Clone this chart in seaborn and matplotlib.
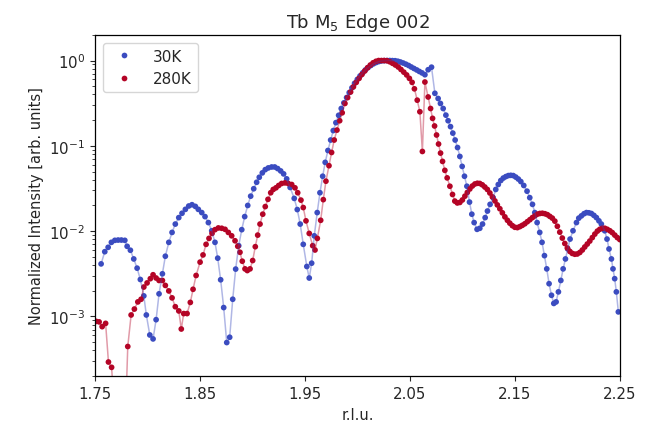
import seaborn as sns
import pandas as pd
import matplotlib.pyplot as plt

# 30K scan
rlu_30k = [1.7557, 1.7592, 1.7624, 1.7655, 1.7688, 1.7719, 1.7750, 1.7783, 1.7805, 1.7836,
           1.7868, 1.7900, 1.7931, 1.7964, 1.7988, 1.8021, 1.8052, 1.8081, 1.8109, 1.8141,
           1.8169, 1.8202, 1.8233, 1.8264, 1.8297, 1.8328, 1.8360, 1.8392, 1.8423, 1.8455,
           1.8483, 1.8516, 1.8547, 1.8579, 1.8611, 1.8642, 1.8668, 1.8696, 1.8725, 1.8754,
           1.8782, 1.8811, 1.8839, 1.8868, 1.8897, 1.8925, 1.8954, 1.8982, 1.9011, 1.9039,
           1.9064, 1.9093, 1.9121, 1.9150, 1.9182, 1.9211, 1.9239, 1.9268, 1.9296, 1.9325,
           1.9358, 1.9397, 1.9426, 1.9454, 1.9483, 1.9517, 1.9540, 1.9563, 1.9588, 1.9616,
           1.9642, 1.9668, 1.9692, 1.9718, 1.9744, 1.9769, 1.9794, 1.9820, 1.9845, 1.9870,
           1.9896, 1.9921, 1.9947, 1.9972, 1.9998, 2.0024, 2.0050, 2.0075, 2.0101, 2.0127,
           2.0152, 2.0178, 2.0204, 2.0229, 2.0255, 2.0281, 2.0307, 2.0332, 2.0358, 2.0384,
           2.0409, 2.0435, 2.0461, 2.0487, 2.0512, 2.0538, 2.0564, 2.0589, 2.0615, 2.0642,
           2.0673, 2.0705, 2.0737, 2.0768, 2.0790, 2.0816, 2.0842, 2.0863, 2.0886, 2.0908,
           2.0930, 2.0953, 2.0975, 2.0997, 2.1019, 2.1042, 2.1067, 2.1089, 2.1111, 2.1139,
           2.1165, 2.1191, 2.1216, 2.1238, 2.1263, 2.1292, 2.1317, 2.1341, 2.1365, 2.1389,
           2.1413, 2.1437, 2.1460, 2.1484, 2.1508, 2.1532, 2.1556, 2.1584, 2.1615, 2.1641,
           2.1667, 2.1689, 2.1711, 2.1736, 2.1758, 2.1781, 2.1803, 2.1825, 2.1848, 2.1870,
           2.1892, 2.1914, 2.1937, 2.1959, 2.1981, 2.2003, 2.2025, 2.2053, 2.2086, 2.2108,
           2.2133, 2.2158, 2.2181, 2.2204, 2.2228, 2.2252, 2.2276, 2.2300, 2.2323, 2.2355,
           2.2377, 2.2396, 2.2419, 2.2434, 2.2450, 2.2466, 2.2485]
int_30k = [0.00413, 0.00574, 0.00646, 0.00739, 0.00780, 0.00786, 0.00786, 0.00780, 0.00664, 0.00597,
           0.00472, 0.00368, 0.00271, 0.00174, 0.00104, 0.000606, 0.000545, 0.000916, 0.00184, 0.00316,
           0.00508, 0.00739, 0.00966, 0.0121, 0.0144, 0.0162, 0.0180, 0.0197, 0.0204, 0.0195,
           0.0180, 0.0165, 0.0148, 0.0126, 0.0101, 0.00739, 0.00482, 0.00269, 0.00127, 0.000494,
           0.000570, 0.00159, 0.00359, 0.00675, 0.0104, 0.0148, 0.0200, 0.0257, 0.0314, 0.0374,
           0.0428, 0.0482, 0.0526, 0.0551, 0.0565, 0.0565, 0.0541, 0.0508, 0.0469, 0.0410,
           0.0325, 0.0242, 0.0179, 0.0121, 0.00700, 0.00385, 0.00282, 0.00421, 0.00881, 0.0165,
           0.0282, 0.0440, 0.0640, 0.0882, 0.117, 0.151, 0.187, 0.228, 0.274, 0.319,
           0.368, 0.421, 0.479, 0.541, 0.601, 0.660, 0.719, 0.776, 0.829, 0.875,
           0.916, 0.948, 0.974, 0.992, 0.997, 1.0, 1.0, 0.998, 0.995, 0.981,
           0.961, 0.935, 0.906, 0.875, 0.840, 0.807, 0.776, 0.745, 0.716, 0.682,
           0.780, 0.836, 0.413, 0.359, 0.314, 0.274, 0.229, 0.197, 0.168, 0.141,
           0.117, 0.0955, 0.0751, 0.0574, 0.0440, 0.0336, 0.0219, 0.0158, 0.0126, 0.0105,
           0.0108, 0.0121, 0.0144, 0.0172, 0.0206, 0.0247, 0.0308, 0.0352, 0.0392, 0.0419,
           0.0436, 0.0448, 0.0451, 0.0448, 0.0430, 0.0408, 0.0381, 0.0343, 0.0294, 0.0247,
           0.0206, 0.0165, 0.0126, 0.00966, 0.00739, 0.00516, 0.00361, 0.00242, 0.00177, 0.00142,
           0.00148, 0.00194, 0.00264, 0.00361, 0.00472, 0.00618, 0.00807, 0.0101, 0.0126, 0.0142,
           0.0151, 0.0160, 0.0165, 0.0164, 0.0161, 0.0153, 0.0144, 0.0132, 0.0121, 0.0101,
           0.00807, 0.00618, 0.00472, 0.00361, 0.00277, 0.00194, 0.00113]

# 280K scan
rlu_280k = [1.7510, 1.7538, 1.7567, 1.7600, 1.7627, 1.7657, 1.7688, 1.7750, 1.7782, 1.7811,
            1.7843, 1.7874, 1.7907, 1.7938, 1.7964, 1.7995, 1.8026, 1.8052, 1.8081, 1.8109,
            1.8141, 1.8169, 1.8202, 1.8233, 1.8264, 1.8297, 1.8321, 1.8344, 1.8376, 1.8407,
            1.8433, 1.8462, 1.8500, 1.8528, 1.8557, 1.8585, 1.8614, 1.8642, 1.8674, 1.8706,
            1.8738, 1.8769, 1.8801, 1.8833, 1.8859, 1.8880, 1.8902, 1.8928, 1.8950, 1.8976,
            1.9001, 1.9026, 1.9049, 1.9071, 1.9097, 1.9121, 1.9147, 1.9173, 1.9197, 1.9223,
            1.9249, 1.9277, 1.9309, 1.9340, 1.9373, 1.9404, 1.9430, 1.9461, 1.9483, 1.9509,
            1.9540, 1.9573, 1.9595, 1.9617, 1.9649, 1.9674, 1.9699, 1.9728, 1.9753, 1.9778,
            1.9804, 1.9830, 1.9854, 1.9880, 1.9906, 1.9934, 1.9961, 1.9988, 2.0015, 2.0042,
            2.0069, 2.0095, 2.0122, 2.0148, 2.0175, 2.0201, 2.0228, 2.0254, 2.0281, 2.0308,
            2.0334, 2.0361, 2.0388, 2.0414, 2.0441, 2.0468, 2.0494, 2.0520, 2.0542, 2.0569,
            2.0594, 2.0618, 2.0642, 2.0673, 2.0696, 2.0715, 2.0734, 2.0753, 2.0772, 2.0791,
            2.0810, 2.0832, 2.0854, 2.0880, 2.0905, 2.0927, 2.0951, 2.0975, 2.0999, 2.1023,
            2.1046, 2.1070, 2.1094, 2.1118, 2.1142, 2.1165, 2.1189, 2.1213, 2.1237, 2.1261,
            2.1285, 2.1309, 2.1332, 2.1356, 2.1380, 2.1404, 2.1428, 2.1451, 2.1475, 2.1499,
            2.1523, 2.1547, 2.1570, 2.1594, 2.1618, 2.1642, 2.1666, 2.1690, 2.1713, 2.1737,
            2.1761, 2.1785, 2.1809, 2.1832, 2.1856, 2.1880, 2.1904, 2.1927, 2.1951, 2.1975,
            2.1999, 2.2023, 2.2046, 2.2070, 2.2094, 2.2118, 2.2142, 2.2165, 2.2189, 2.2213,
            2.2237, 2.2261, 2.2285, 2.2308, 2.2332, 2.2356, 2.2380, 2.2404, 2.2427, 2.2451,
            2.2475, 2.2499]
int_280k = [0.000875, 0.000863, 0.000759, 0.000829, 0.000292, 0.000253, 6.5e-05, 3.8e-05, 3.5e-05, 0.000444,
            0.00104, 0.00122, 0.00148, 0.00159, 0.00221, 0.00247, 0.00277, 0.00308, 0.00282, 0.00264,
            0.00264, 0.00231, 0.00199, 0.00165, 0.00130, 0.00116, 0.000712, 0.00108, 0.00108, 0.00146,
            0.00208, 0.00302, 0.00433, 0.00526, 0.00700, 0.00822, 0.00940, 0.0104, 0.0109, 0.0108,
            0.0105, 0.00966, 0.00881, 0.00771, 0.00664, 0.00565, 0.00444, 0.00361, 0.00345, 0.00361,
            0.00452, 0.00657, 0.00898, 0.0121, 0.0158, 0.0194, 0.0236, 0.0282, 0.0308, 0.0322,
            0.0343, 0.0362, 0.0368, 0.0362, 0.0352, 0.0322, 0.0282, 0.0231, 0.0189, 0.0132,
            0.00940, 0.00675, 0.00601, 0.00822, 0.0134, 0.0234, 0.0385, 0.0585, 0.0836, 0.117,
            0.153, 0.197, 0.244, 0.314, 0.368, 0.428, 0.492, 0.555, 0.618, 0.687,
            0.755, 0.822, 0.886, 0.940, 0.979, 1.0, 1.0, 1.0, 0.995, 0.966,
            0.928, 0.886, 0.840, 0.786, 0.731, 0.678, 0.618, 0.555, 0.466, 0.343,
            0.251, 0.0859, 0.560, 0.374, 0.274, 0.210, 0.171, 0.134, 0.105, 0.0822,
            0.0657, 0.0516, 0.0421, 0.0336, 0.0269, 0.0225, 0.0214, 0.0217, 0.0232, 0.0257,
            0.0284, 0.0312, 0.0338, 0.0357, 0.0364, 0.0362, 0.0349, 0.0329, 0.0308, 0.0280,
            0.0252, 0.0226, 0.0203, 0.0183, 0.0164, 0.0147, 0.0134, 0.0124, 0.0116, 0.0111,
            0.0110, 0.0113, 0.0117, 0.0122, 0.0129, 0.0136, 0.0144, 0.0151, 0.0158, 0.0161,
            0.0162, 0.0160, 0.0156, 0.0149, 0.0142, 0.0131, 0.0114, 0.00973, 0.00829, 0.00716,
            0.00634, 0.00578, 0.00548, 0.00536, 0.00540, 0.00562, 0.00601, 0.00652, 0.00706, 0.00765,
            0.00840, 0.00923, 0.0100, 0.0105, 0.0108, 0.0108, 0.0105, 0.0101, 0.00961, 0.00898,
            0.00840, 0.00796]

labels = ["30K", "280K"]
colors = ["#3b4cc0", "#b40426"]

df = pd.concat([
    pd.DataFrame({"rlu": rlu_30k, "intensity": int_30k, "T": labels[0]}),
    pd.DataFrame({"rlu": rlu_280k, "intensity": int_280k, "T": labels[1]}),
])

sns.set_style("ticks")
plt.rcParams.update({"xtick.major.size": 3.8, "ytick.major.size": 3.8,
                     "ytick.minor.size": 2.2, "xtick.direction": "out",
                     "ytick.direction": "out", "axes.edgecolor": "black",
                     "axes.linewidth": 0.9})

fig = plt.figure(figsize=(6.56, 4.27), dpi=100)
ax = fig.add_axes([0.145, 0.117, 0.8, 0.799])

pal = dict(zip(labels, colors))
sns.lineplot(data=df, x="rlu", y="intensity", hue="T", palette=pal,
             estimator=None, sort=True, alpha=0.4, lw=1.1, legend=False, ax=ax)
sns.scatterplot(data=df, x="rlu", y="intensity", hue="T", palette=pal,
                s=17, linewidth=0, ax=ax)

ax.set_yscale("log")
ax.set_xlim(1.75, 2.25)
ax.set_ylim(2e-4, 2)
ax.set_xticks([1.75, 1.85, 1.95, 2.05, 2.15, 2.25])
ax.set_xticklabels(["1.75", "1.85", "1.95", "2.05", "2.15", "2.25"])
ax.tick_params(labelsize=10.8)
ax.set_xlabel("r.l.u.", fontsize=10.5)
ax.set_ylabel("Normalized Intensity [arb. units]", fontsize=10.5)
ax.set_title("Tb M$_5$ Edge 002", fontsize=13)

leg = ax.legend(loc="upper left", fontsize=11, handlelength=2.0,
                handletextpad=0.9, borderaxespad=0.5)
leg.set_title(None)

fig.savefig("out.png", dpi=100)
